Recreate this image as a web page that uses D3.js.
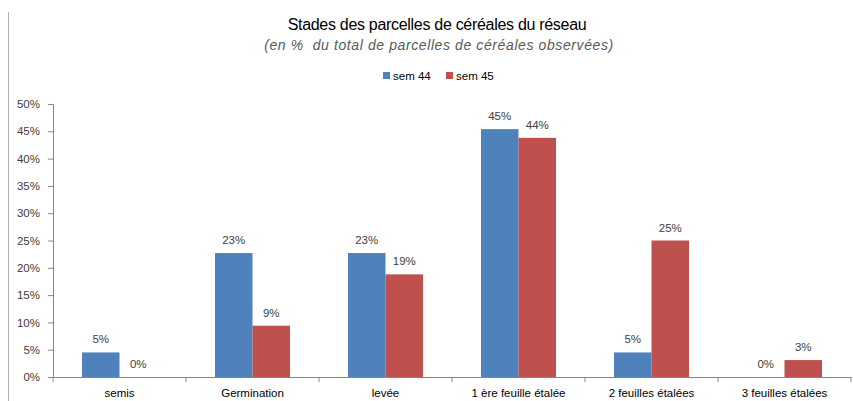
<!DOCTYPE html>
<html>
<head>
<meta charset="utf-8">
<script src="https://cdn.jsdelivr.net/npm/d3@7"></script>
<style>
  body { margin: 0; background: #fff; }
  svg { font-family: "Liberation Sans", Arial, sans-serif; }
</style>
</head>
<body>
<div id="chart"></div>
<script>
// data
let categories = ["semis", "Germination", "levée", "1 ère feuille étalée", "2 feuilles étalées", "3 feuilles étalées"]
let seriesNames = ["sem 44", "sem 45"]
let sem44 = [4.5, 22.7, 22.7, 45.4, 4.5, 0]
let sem45 = [0, 9.4, 18.8, 43.8, 25, 3.1]
let seriesColors = ["#4F81BD", "#C0504D"]
let yTicks = [0, 5, 10, 15, 20, 25, 30, 35, 40, 45, 50]

let width = 853, height = 401
let padding = { left: 53, right: 2, top: 104, bottom: 24 }

let svg = d3.select("#chart").append("svg")
    .attr("width", width).attr("height", height)

// grey frame edge on the left
svg.append("line")
    .attr("x1", 8.5).attr("x2", 8.5).attr("y1", 12).attr("y2", height)
    .attr("stroke", "#b0b0b0")

// titles
svg.append("text")
    .attr("x", 437).attr("y", 30)
    .attr("text-anchor", "middle")
    .attr("font-size", 16)
    .attr("fill", "#000")
    .attr("letter-spacing", -0.3)
    .text("Stades des parcelles de céréales du réseau")
svg.append("text")
    .attr("x", 439).attr("y", 50)
    .attr("text-anchor", "middle")
    .attr("font-size", 14)
    .attr("font-style", "italic")
    .attr("fill", "#595959")
    .attr("letter-spacing", 0.6)
    .style("white-space", "pre")
    .text("(en %  du total de parcelles de céréales observées)")

// legend
let legendX = [383, 446]
seriesNames.forEach(function(name, i) {
    svg.append("rect")
        .attr("x", legendX[i]).attr("y", 72)
        .attr("width", 7).attr("height", 7)
        .attr("fill", seriesColors[i])
    svg.append("text")
        .attr("x", legendX[i] + 10).attr("y", 80)
        .attr("font-size", 11.5)
        .attr("fill", "#000")
        .text(name)
})

// scales
let xScale = d3.scaleBand().domain(categories)
    .range([padding.left, width - padding.right])
let xInner = d3.scaleBand().domain(seriesNames)
    .range([0, xScale.bandwidth()])
    .paddingOuter(0.773)
let yScale = d3.scaleLinear().domain([0, 50])
    .range([height - padding.bottom, padding.top])

// y axis
let yAxis = d3.axisLeft(yScale)
    .tickValues(yTicks)
    .tickSize(5)
    .tickPadding(8)
    .tickFormat(function(d) { return d + "%" })
let yG = svg.append("g")
    .attr("transform", `translate(${padding.left}, 0)`)
    .call(yAxis)
yG.select(".domain").attr("stroke", "#868686")
yG.selectAll(".tick line").attr("stroke", "#868686")
yG.selectAll(".tick text").attr("font-size", 11.5).attr("fill", "#404040")
    .attr("font-family", "Liberation Sans, Arial, sans-serif")

// bars
let data = categories.map(function(c, i) {
    return { cat: c, values: [sem44[i], sem45[i]] }
})
let groups = svg.selectAll(".group")
    .data(data)
    .enter().append("g")
    .attr("class", "group")
    .attr("transform", function(d) { return `translate(${xScale(d.cat)}, 0)` })

groups.selectAll("rect")
    .data(function(d) { return d.values.map(function(v, i) { return { v: v, s: i } }) })
    .enter().append("rect")
    .attr("x", function(d) { return xInner(seriesNames[d.s]) })
    .attr("width", xInner.bandwidth())
    .attr("y", function(d) { return yScale(d.v) })
    .attr("height", function(d) { return yScale(0) - yScale(d.v) })
    .attr("fill", function(d) { return seriesColors[d.s] })

groups.selectAll(".val")
    .data(function(d) { return d.values.map(function(v, i) { return { v: v, s: i } }) })
    .enter().append("text")
    .attr("class", "val")
    .attr("x", function(d) { return xInner(seriesNames[d.s]) + xInner.bandwidth() / 2 })
    .attr("y", function(d) { return yScale(d.v) - 9 })
    .attr("text-anchor", "middle")
    .attr("font-size", 11.5)
    .attr("fill", "#404040")
    .text(function(d) { return Math.round(d.v) + "%" })

// x axis
let xAxis = d3.axisBottom(xScale).tickSize(0).tickPadding(12)
let xG = svg.append("g")
    .attr("transform", `translate(0, ${yScale(0)})`)
    .call(xAxis)
xG.select(".domain").attr("stroke", "#868686")
xG.selectAll(".tick text").attr("font-size", 11.5).attr("fill", "#000")
    .attr("font-family", "Liberation Sans, Arial, sans-serif")
// tick marks between categories
let boundaries = categories.map(function(c) { return xScale(c) }).concat([xScale.range()[1]])
xG.selectAll(".bound")
    .data(boundaries)
    .enter().append("line")
    .attr("class", "bound")
    .attr("x1", function(d) { return d }).attr("x2", function(d) { return d })
    .attr("y1", 0).attr("y2", 5)
    .attr("stroke", "#868686")
</script>
</body>
</html>
